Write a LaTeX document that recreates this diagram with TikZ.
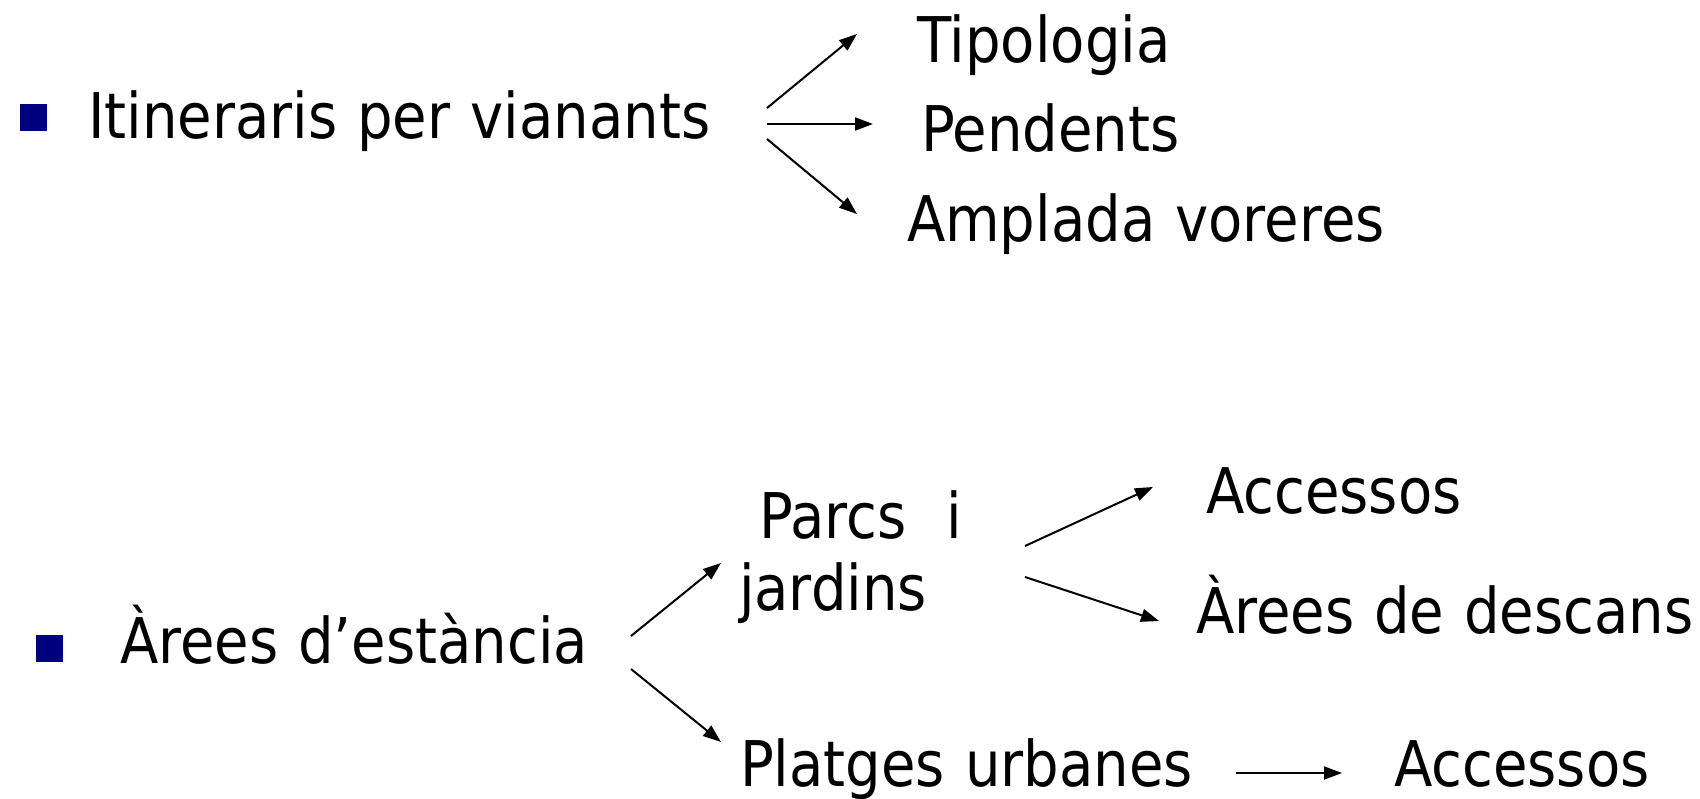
\documentclass[tikz,border=0pt]{standalone}
\usepackage{fontspec}
\setmainfont[FakeStretch=0.89,WordSpace=1.12]{DejaVu Sans}
\usetikzlibrary{arrows.meta}
\definecolor{bulletblue}{RGB}{0,0,128}
\begin{document}
\begin{tikzpicture}[x=0.5pt,y=-0.5pt,
  lbl/.style={anchor=base west,inner sep=0pt,outer sep=0pt,font=\fontsize{31.5pt}{38pt}\selectfont},
  bsq/.style={fill=bulletblue,draw=none,inner sep=0pt,minimum size=13.5pt,anchor=north west},
  arr/.style={line width=1pt,-{Triangle[length=9pt,width=6.5pt]}}]
\useasboundingbox (0,0) rectangle (1700,798);
% row 1
\node[bsq] (b1) at (19.5,104) {};
\node[lbl] (itin) at (88,138) {Itineraris per vianants};
\node[lbl] (tip) at (917,62) {Tipologia};
\node[lbl] (pen) at (921,151) {Pendents};
\node[lbl] (amp) at (907,241) {Amplada voreres};
\coordinate (i1) at (767,108);
\coordinate (i2) at (767,124);
\coordinate (i3) at (767,139);
\coordinate (t1) at (857,34);
\coordinate (t2) at (873,124);
\coordinate (t3) at (857,214);
\draw[arr] (i1) -- (t1);
\draw[arr] (i2) -- (t2);
\draw[arr] (i3) -- (t3);
% row 2
\node[bsq] (b2) at (36,635) {};
\node[lbl] (area) at (120,663) {Àrees d’estància};
\node[lbl] (parcs) at (759,538) {Parcs~ i};
\node[lbl] (jard) at (739,610) {jardins};
\node[lbl] (acc1) at (1206,513) {Accessos};
\node[lbl] (desc) at (1196,633) {Àrees de descans};
\node[lbl] (plat) at (740,786) {Platges urbanes};
\node[lbl] (acc2) at (1394,786) {Accessos};
\coordinate (a1) at (631,636);
\coordinate (a2) at (631,669);
\coordinate (pa) at (721,563);
\coordinate (pl) at (721,742);
\draw[arr] (a1) -- (pa);
\draw[arr] (a2) -- (pl);
\coordinate (p1) at (1025,546);
\coordinate (p2) at (1025,577);
\coordinate (c1) at (1153,487);
\coordinate (c2) at (1159,621);
\draw[arr] (p1) -- (c1);
\draw[arr] (p2) -- (c2);
\coordinate (u1) at (1236,773);
\coordinate (u2) at (1342,773);
\draw[arr] (u1) -- (u2);
\end{tikzpicture}
\end{document}
